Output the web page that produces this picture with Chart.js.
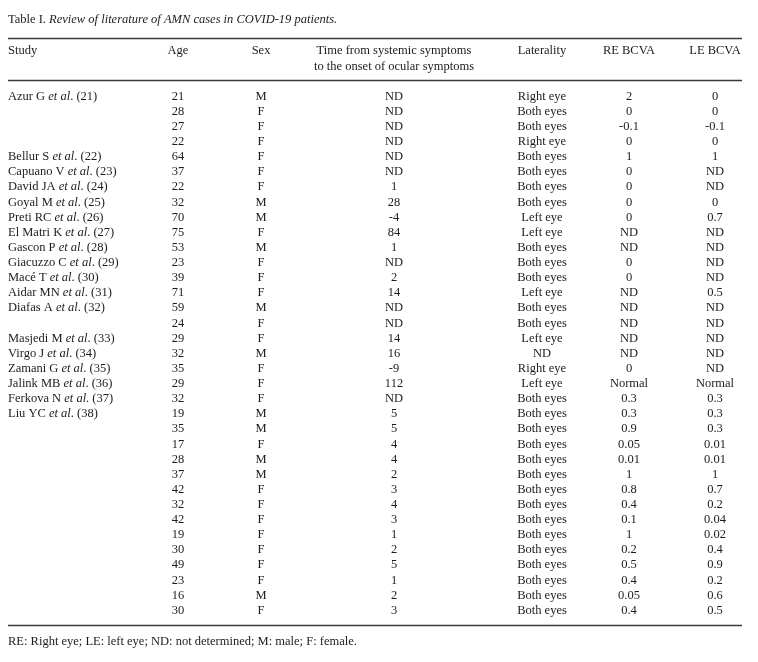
<!DOCTYPE html>
<html>
<head>
<meta charset="utf-8">
<script src="https://cdn.jsdelivr.net/npm/chart.js@4/dist/chart.umd.min.js"></script>
<style>
  html, body { margin: 0; padding: 0; background: #fff; }
  canvas { display: block; }
</style>
</head>
<body>
<canvas id="tbl" width="758" height="662"></canvas>
<script>
// Table I data, one entry per row
const studies = ['Azur G', '', '', '', 'Bellur S', 'Capuano V', 'David JA', 'Goyal M', 'Preti RC', 'El Matri K',
  'Gascon P', 'Giacuzzo C', 'Macé T', 'Aidar MN', 'Diafas A', '', 'Masjedi M', 'Virgo J', 'Zamani G', 'Jalink MB',
  'Ferkova N', 'Liu YC', '', '', '', '', '', '', '', '', '', '', '', '', ''];
const refs = [21, null, null, null, 22, 23, 24, 25, 26, 27, 28, 29, 30, 31, 32, null, 33, 34, 35, 36, 37, 38,
  null, null, null, null, null, null, null, null, null, null, null, null, null];
const ages = [21, 28, 27, 22, 64, 37, 22, 32, 70, 75, 53, 23, 39, 71, 59, 24, 29, 32, 35, 29, 32,
  19, 35, 17, 28, 37, 42, 32, 42, 19, 30, 49, 23, 16, 30];
const sexes = ['M', 'F', 'F', 'F', 'F', 'F', 'F', 'M', 'M', 'F', 'M', 'F', 'F', 'F', 'M', 'F', 'F', 'M', 'F', 'F', 'F',
  'M', 'M', 'F', 'M', 'M', 'F', 'F', 'F', 'F', 'F', 'F', 'F', 'M', 'F'];
const onsetDays = ['ND', 'ND', 'ND', 'ND', 'ND', 'ND', '1', '28', '-4', '84', '1', 'ND', '2', '14', 'ND', 'ND', '14', '16', '-9', '112', 'ND',
  '5', '5', '4', '4', '2', '3', '4', '3', '1', '2', '5', '1', '2', '3'];
const laterality = ['Right eye', 'Both eyes', 'Both eyes', 'Right eye', 'Both eyes', 'Both eyes', 'Both eyes', 'Both eyes',
  'Left eye', 'Left eye', 'Both eyes', 'Both eyes', 'Both eyes', 'Left eye', 'Both eyes', 'Both eyes', 'Left eye', 'ND',
  'Right eye', 'Left eye', 'Both eyes',
  'Both eyes', 'Both eyes', 'Both eyes', 'Both eyes', 'Both eyes', 'Both eyes', 'Both eyes', 'Both eyes', 'Both eyes',
  'Both eyes', 'Both eyes', 'Both eyes', 'Both eyes', 'Both eyes'];
const reBcva = ['2', '0', '-0.1', '0', '1', '0', '0', '0', '0', 'ND', 'ND', '0', '0', 'ND', 'ND', 'ND', 'ND', 'ND', '0', 'Normal', '0.3',
  '0.3', '0.9', '0.05', '0.01', '1', '0.8', '0.4', '0.1', '1', '0.2', '0.5', '0.4', '0.05', '0.4'];
const leBcva = ['0', '0', '-0.1', '0', '1', 'ND', 'ND', '0', '0.7', 'ND', 'ND', 'ND', 'ND', '0.5', 'ND', 'ND', 'ND', 'ND', 'ND', 'Normal', '0.3',
  '0.3', '0.3', '0.01', '0.01', '1', '0.7', '0.2', '0.04', '0.02', '0.4', '0.9', '0.2', '0.6', '0.5'];

const headers = ['Study', 'Age', 'Sex', ['Time from systemic symptoms', 'to the onset of ocular symptoms'], 'Laterality', 'RE BCVA', 'LE BCVA'];
const footnote = 'RE: Right eye; LE: left eye; ND: not determined; M: male; F: female.';

// layout (x in px along the linear x scale, y in row units)
const COL_X = [8, 178, 261, 394, 542, 629, 715];
const RULE_X = [8, 742];
const FONT = '"Liberation Serif", "Times New Roman", serif';
const FS = 12.5;
const INK = '#1c1c1c';

function richText(ctx, parts, x, y) {
  parts.forEach(p => {
    ctx.font = (p.italic ? 'italic ' : '') + FS + 'px ' + FONT;
    ctx.fillText(p.t, x, y);
    x += ctx.measureText(p.t).width;
  });
}

const tablePlugin = {
  id: 'tablePlugin',
  afterDraw(chart) {
    const { ctx, scales: { x, y } } = chart;
    const px = v => x.getPixelForValue(v);
    const py = v => y.getPixelForValue(v);
    ctx.save();
    ctx.fillStyle = INK;
    ctx.textBaseline = 'middle';

    // title
    ctx.textAlign = 'left';
    richText(ctx, [{ t: 'Table I. ' }, { t: 'Review of literature of AMN cases in COVID-19 patients.', italic: true }], px(8), py(-5.05));

    // rules
    ctx.strokeStyle = '#3a3a3a';
    ctx.lineWidth = 1.4;
    [-3.9, -1.12, 34.93].forEach(v => {
      const yy = Math.round(py(v)) + 0.5;
      ctx.beginPath();
      ctx.moveTo(px(RULE_X[0]), yy);
      ctx.lineTo(px(RULE_X[1]), yy);
      ctx.stroke();
    });

    // header: single-line labels sit on the first line
    ctx.font = FS + 'px ' + FONT;
    headers.forEach((h, c) => {
      ctx.textAlign = c === 0 ? 'left' : 'center';
      if (Array.isArray(h)) {
        ctx.fillText(h[0], px(COL_X[c]), py(-3.0));
        ctx.fillText(h[1], px(COL_X[c]), py(-1.99));
      } else {
        ctx.fillText(h, px(COL_X[c]), py(-3.0));
      }
    });

    // body rows
    ages.forEach((age, i) => {
      const yy = py(i);
      ctx.textAlign = 'left';
      if (studies[i]) {
        richText(ctx, [{ t: studies[i] + ' ' }, { t: 'et al', italic: true }, { t: '. (' + refs[i] + ')' }], px(COL_X[0]), yy);
      }
      ctx.font = FS + 'px ' + FONT;
      ctx.textAlign = 'center';
      [String(age), sexes[i], onsetDays[i], laterality[i], reBcva[i], leBcva[i]].forEach((v, k) => {
        ctx.fillText(v, px(COL_X[k + 1]), yy);
      });
    });

    // footnote
    ctx.textAlign = 'left';
    ctx.font = FS + 'px ' + FONT;
    ctx.fillText(footnote, px(8), py(36.07));
    ctx.restore();
  }
};

new Chart(document.getElementById('tbl'), {
  type: 'scatter',
  data: {
    datasets: [{ data: ages.map((a, i) => ({ x: COL_X[1], y: i })), pointRadius: 0, showLine: false }]
  },
  options: {
    responsive: false,
    animation: false,
    layout: { padding: { top: 88.94, bottom: 43.9, left: 0, right: 0 } },
    plugins: { legend: { display: false }, tooltip: { enabled: false } },
    scales: {
      x: { type: 'linear', min: 0, max: 758, display: false },
      y: { type: 'linear', min: -0.5, max: 34.5, reverse: true, display: false }
    }
  },
  plugins: [tablePlugin]
});
</script>
</body>
</html>
